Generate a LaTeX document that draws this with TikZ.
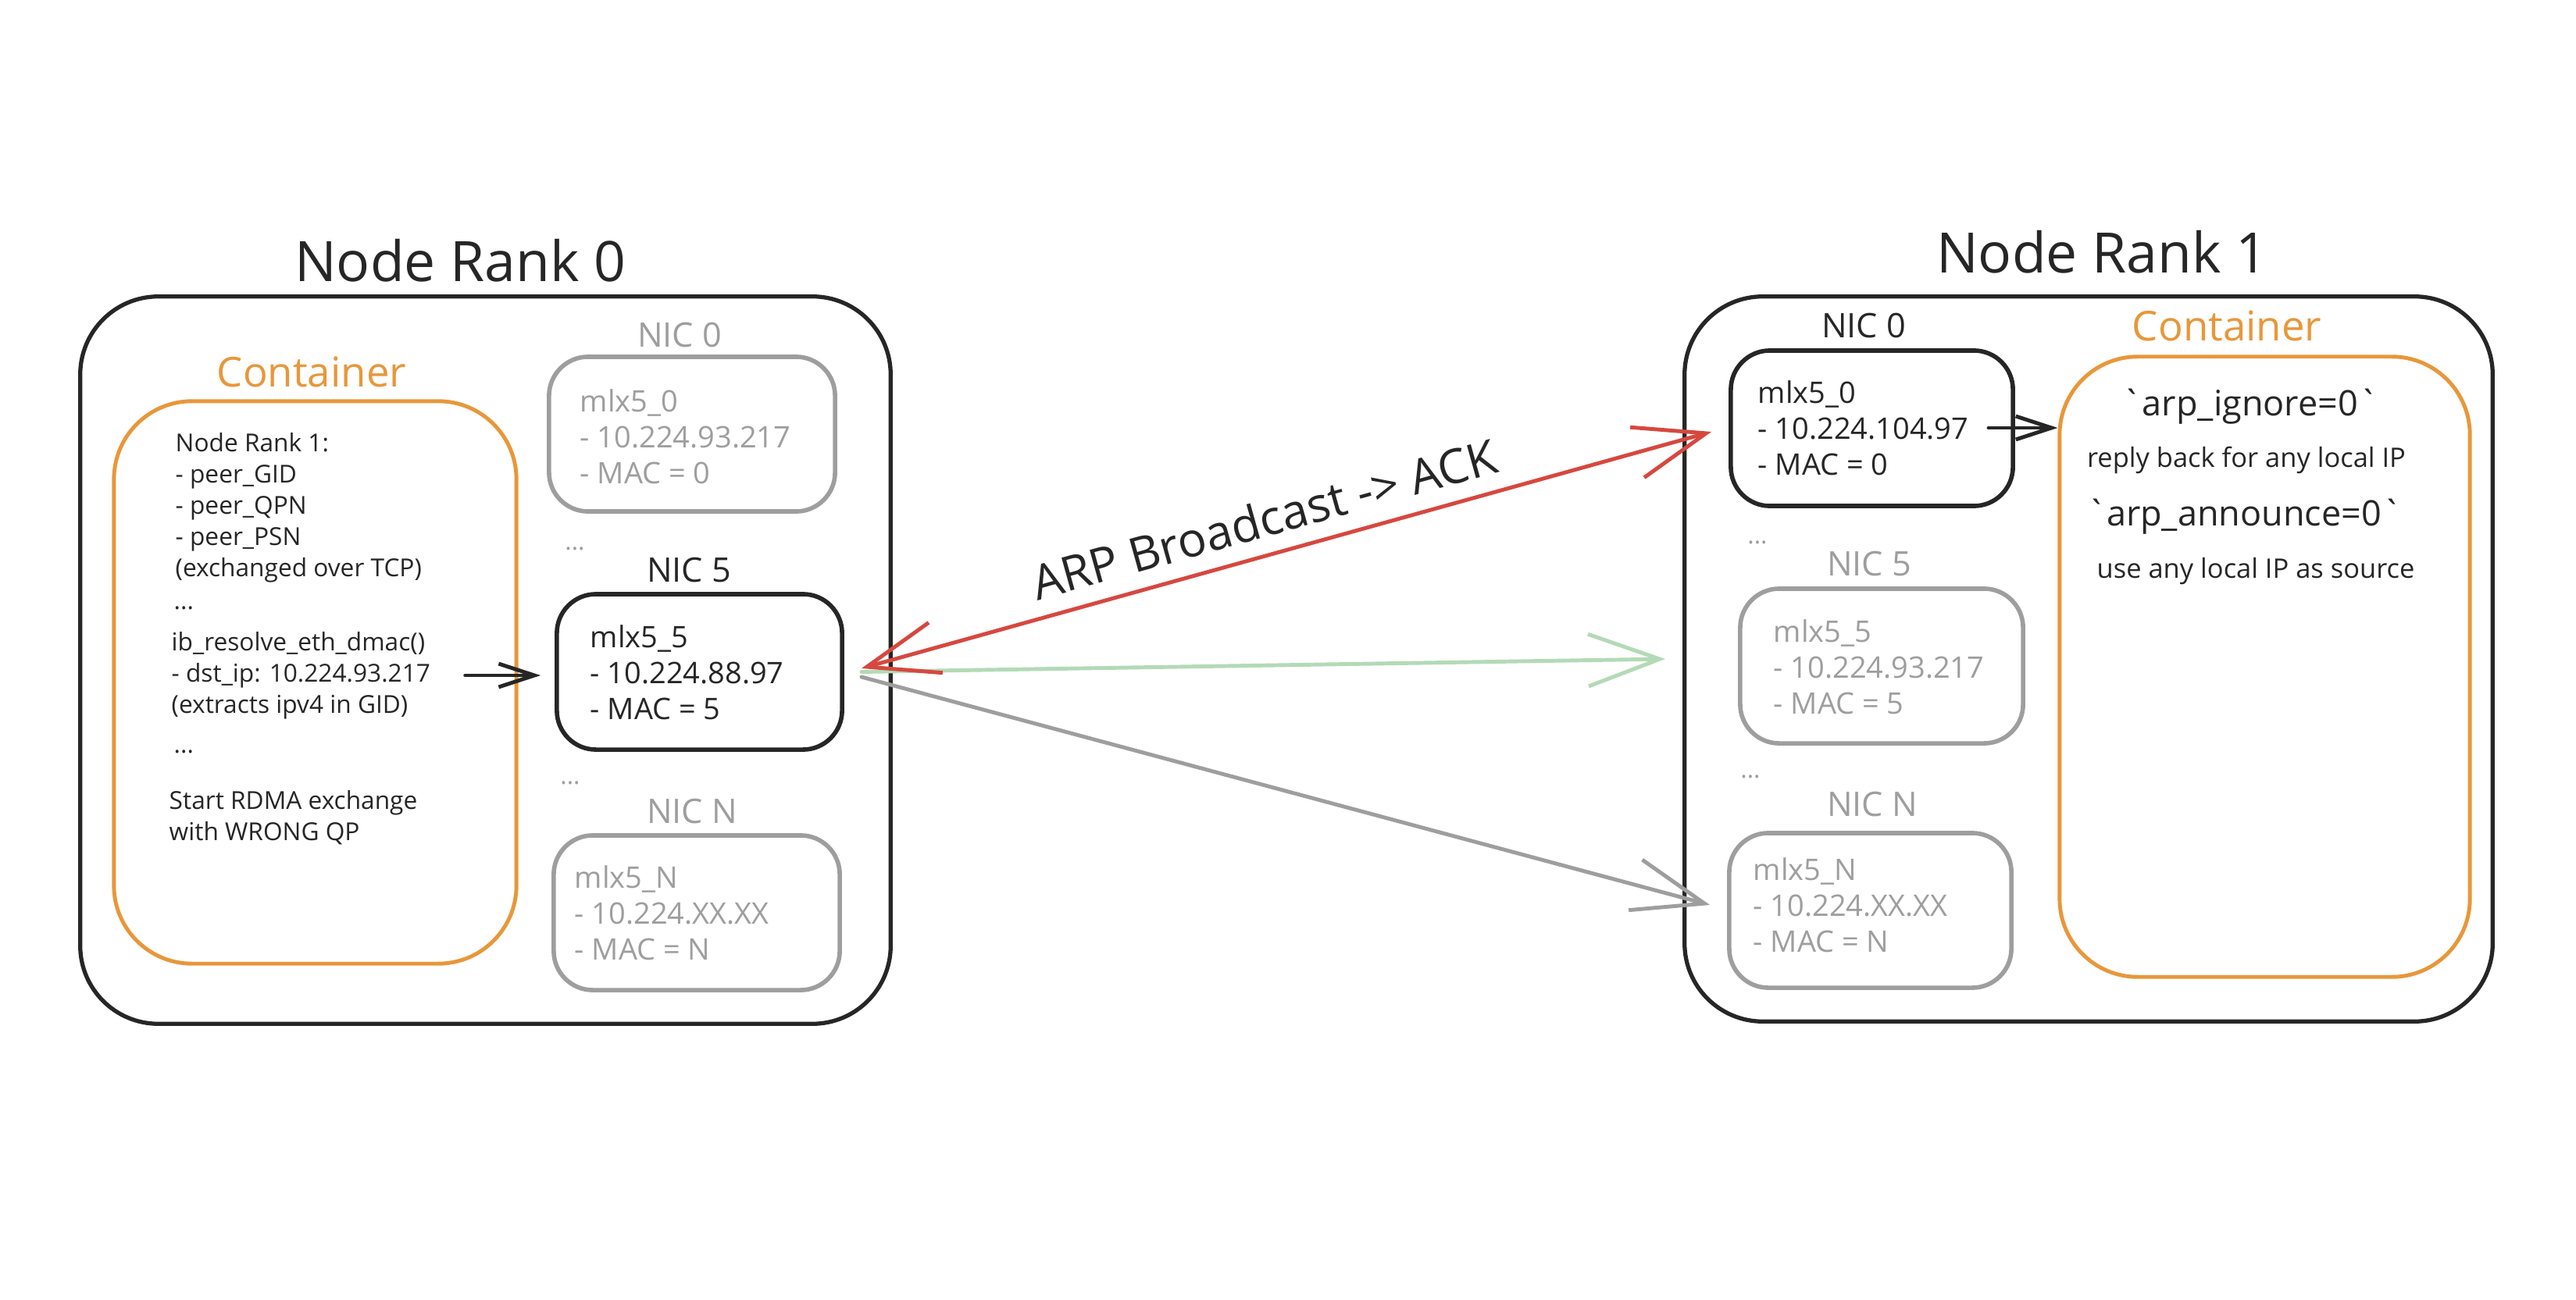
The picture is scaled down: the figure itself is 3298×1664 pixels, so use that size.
\documentclass[tikz,border=0pt]{standalone}
\usepackage{fontspec}
\setmainfont{Open Sans}
\newfontfamily\rawfont{Open Sans}[Ligatures=TeXOff]
\usetikzlibrary{arrows.meta,calc}
\definecolor{ink}{HTML}{262626}
\definecolor{lgray}{HTML}{9E9E9E}
\definecolor{orng}{HTML}{E8973A}
\definecolor{rred}{HTML}{D6483F}
\definecolor{lgreen}{HTML}{B3DAB6}
\begin{document}
\begin{tikzpicture}[x=0.01cm,y=-0.01cm,
  outerbox/.style={draw=ink,line width=1.5pt,rounded corners=1cm,inner sep=0},
  contbox/.style={draw=orng,line width=1.4pt,rounded corners=1cm,inner sep=0},
  nicbox/.style={draw=ink,line width=1.6pt,rounded corners=0.5cm,inner sep=0},
  nicboxg/.style={draw=lgray,line width=1.6pt,rounded corners=0.5cm,inner sep=0},
  titletext/.style={text=ink,inner sep=0,font=\fontsize{20.3}{24}\selectfont},
  contlabel/.style={text=orng,inner sep=0,font=\fontsize{15}{18}\selectfont},
  niclabel/.style={inner sep=0,font=\fontsize{12.3}{15}\selectfont},
  nictext/.style={inner sep=0,anchor=west,align=left,font=\fontsize{10.8}{13.1}\selectfont},
  smalltext/.style={text=ink,inner sep=0,anchor=west,align=left,font=\fontsize{9}{11.4}\selectfont},
  dotstext/.style={inner sep=0,font=\fontsize{9}{11}\selectfont},
  cfgtext/.style={text=ink,inner sep=0,font=\rawfont\fontsize{12.8}{15}\selectfont},
  desctext/.style={text=ink,inner sep=0,font=\fontsize{9.8}{12}\selectfont},
  bigarrow/.style={line width=1.4pt,line cap=round,
    arrows={-Straight Barb[length=26pt,width=19pt,line width=1.4pt]}},
  smallarrow/.style={draw=ink,line width=1.4pt,line cap=round,
    arrows={-Straight Barb[length=13pt,width=8.5pt,line width=1.4pt]}}
]
\fill[white] (0,0) rectangle (3298,1664);
\useasboundingbox (0,0) rectangle (3298,1664);

% ---------------- Node Rank 0 ----------------
\node[outerbox,minimum width=10.37cm,minimum height=9.31cm] (lnode) at (621.5,845.5) {};
\node[titletext] (ltitle) at (589,334) {Node Rank 0};
\node[contbox,minimum width=5.15cm,minimum height=7.20cm] (lcont) at (403.5,874) {};
\node[contlabel] (lcontl) at (399,476) {Container};

\node[smalltext] (ltxt1) at (224,650) {Node Rank 1:\\- peer\_GID\\- peer\_QPN\\- peer\_PSN\\(exchanged over TCP)};
\node[dotstext,text=ink,anchor=west] (ldots3) at (222,779) {...};
\node[smalltext] (ltxt2) at (219,865) {ib\_resolve\_eth\_dmac()\\- dst\_ip: 10.224.93.217\\(extracts ipv4 in GID)};
\node[dotstext,text=ink,anchor=west] (ldots4) at (222,963) {...};
\node[smalltext] (ltxt3) at (216,1047) {Start RDMA exchange\\with WRONG QP};

\node[nicboxg,minimum width=3.66cm,minimum height=1.98cm] (lnic0) at (886,556) {};
\node[niclabel,text=lgray] (lnic0l) at (870,429) {NIC 0};
\node[nictext,text=lgray] (lt0) at (742,559) {mlx5\_0\\- 10.224.93.217\\- MAC = 0};
\node[dotstext,text=lgray] (ldots1) at (736,703) {...};

\node[nicbox,minimum width=3.65cm,minimum height=1.99cm] (lnic5) at (895.5,860.5) {};
\node[niclabel,text=ink] (lnic5l) at (882,730) {NIC 5};
\node[nictext,text=ink] (lt5) at (755,861) {mlx5\_5\\- 10.224.88.97\\- MAC = 5};
\node[dotstext,text=lgray] (ldots2) at (730,1003) {...};

\node[nicboxg,minimum width=3.66cm,minimum height=1.98cm] (lnicn) at (892,1169) {};
\node[niclabel,text=lgray] (lnicnl) at (886,1039) {NIC N};
\node[nictext,text=lgray] (ltn) at (735,1169) {mlx5\_N\\- 10.224.XX.XX\\- MAC = N};

% ---------------- Node Rank 1 ----------------
\node[outerbox,minimum width=10.34cm,minimum height=9.28cm] (rnode) at (2674,844) {};
\node[titletext] (rtitle) at (2691,323) {Node Rank 1};

\node[nicbox,minimum width=3.61cm,minimum height=1.99cm] (rnic0) at (2396.5,548.5) {};
\node[niclabel,text=ink] (rnic0l) at (2386,417) {NIC 0};
\node[nictext,text=ink] (rt0) at (2250,548) {mlx5\_0\\- 10.224.104.97\\- MAC = 0};
\node[dotstext,text=lgray] (rdots1) at (2250,695) {...};

\node[nicboxg,minimum width=3.62cm,minimum height=1.98cm] (rnic5) at (2409,853) {};
\node[niclabel,text=lgray] (rnic5l) at (2393,722) {NIC 5};
\node[nictext,text=lgray] (rt5) at (2270,854) {mlx5\_5\\- 10.224.93.217\\- MAC = 5};
\node[dotstext,text=lgray] (rdots2) at (2241,995) {...};

\node[nicboxg,minimum width=3.61cm,minimum height=1.98cm] (rnicn) at (2394.5,1166) {};
\node[niclabel,text=lgray] (rnicnl) at (2397,1030) {NIC N};
\node[nictext,text=lgray] (rtn) at (2244,1159) {mlx5\_N\\- 10.224.XX.XX\\- MAC = N};

\node[contbox,minimum width=5.25cm,minimum height=7.94cm] (rcont) at (2899.5,854) {};
\node[contlabel] (rcontl) at (2851,417) {Container};
\node[cfgtext] (rcfg1) at (2881,521) {\symbol{96}arp\_ignore=0\symbol{96}};
\node[desctext] (rdesc1) at (2876,589) {reply back for any local IP};
\node[cfgtext] (rcfg2) at (2873,662) {\symbol{96}arp\_announce=0\symbol{96}};
\node[desctext] (rdesc2) at (2888,732) {use any local IP as source};

% ---------------- connectors ----------------
\draw[smallarrow,shorten <=0.44cm,shorten >=0.18cm] (ltxt2.east) -- (ltxt2.east -| lnic5.west);
\draw[smallarrow,shorten <=0.25cm] (rt0.east) -- (rt0.east -| rcont.west);

\draw[bigarrow,draw=lgreen] ([xshift=0.22cm]lnic5.east) -- ([xshift=-0.93cm,yshift=0.09cm]rnic5.west);
\draw[bigarrow,draw=lgray] ([xshift=0.22cm,yshift=-0.065cm]lnic5.east) -- ([xshift=-0.22cm,yshift=0.07cm]rnicn.west);
\draw[bigarrow,draw=rred,arrows={Straight Barb[length=26pt,width=19pt,line width=1.4pt]-Straight Barb[length=26pt,width=19pt,line width=1.4pt]}]
  ([xshift=0.22cm,yshift=0.045cm]lnic5.east) -- ([xshift=-0.22cm,yshift=-0.045cm]rnic0.west)
  node[pos=0.485,sloped,above=0.2cm,inner sep=0,text=ink,font=\fontsize{17.4}{20}\selectfont] (arplabel) {ARP Broadcast -> ACK};
\end{tikzpicture}
\end{document}
